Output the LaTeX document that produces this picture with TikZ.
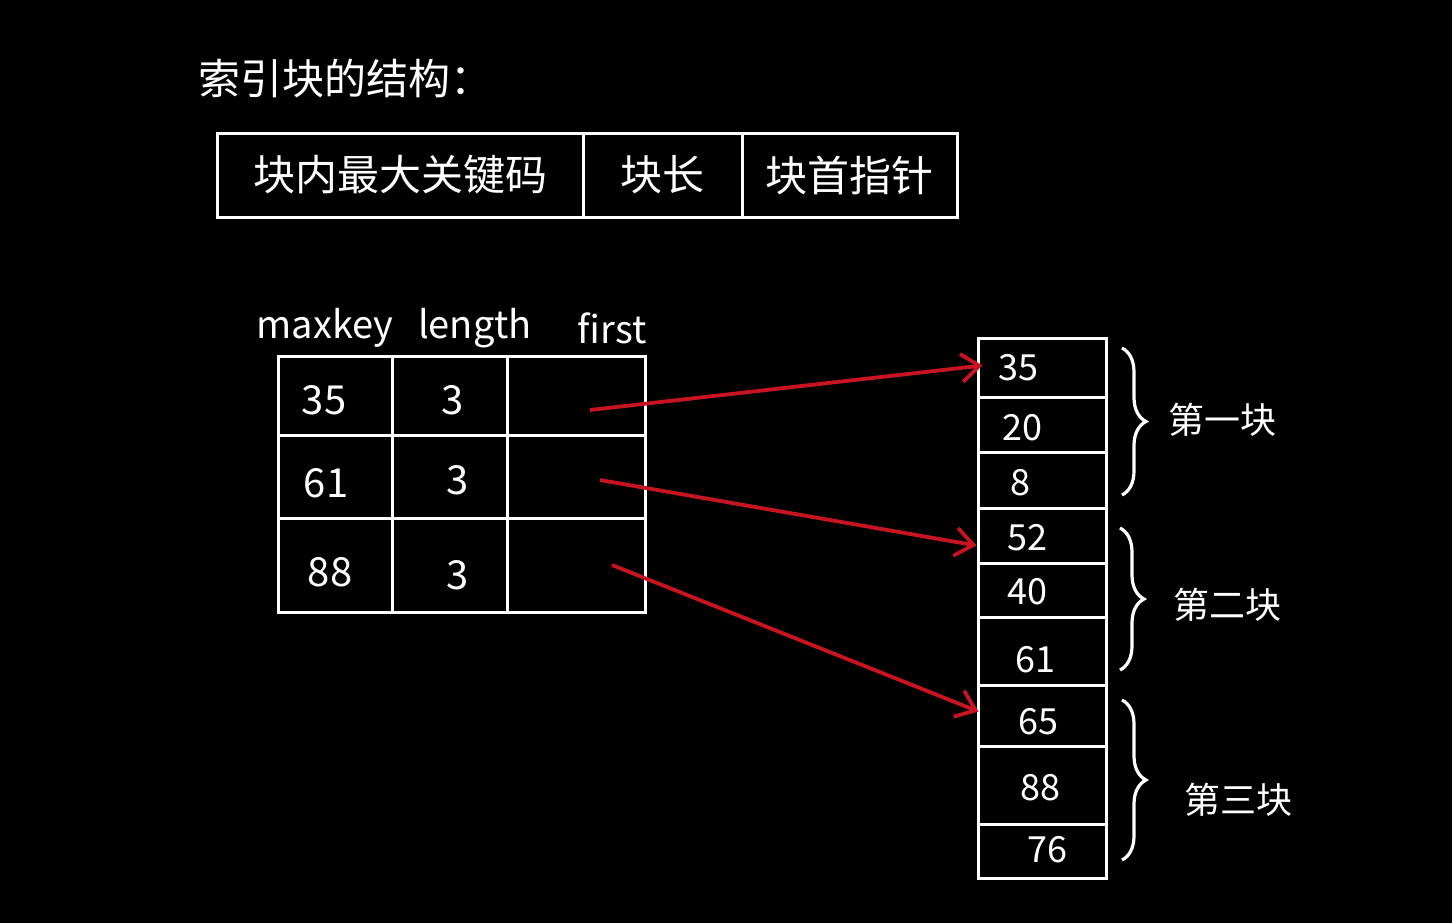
\documentclass[tikz,border=0pt]{standalone}
\usepackage{fontspec}
\setmainfont{Noto Sans CJK SC}
\usetikzlibrary{decorations.pathreplacing,arrows.meta}
\definecolor{arrowred}{RGB}{200,20,32}
\begin{document}
\begin{tikzpicture}[x=0.5pt,y=-0.5pt,
  cell/.style={draw=white,line width=1.5pt,inner sep=0pt,anchor=center,text=white},
  txt/.style={text=white,inner sep=0pt,anchor=center},
  ptr/.style={draw=arrowred,line width=1.9pt,-{Straight Barb[length=9pt,width=14pt,line width=1.9pt]}},
  bracestyle/.style={draw=white,line width=1.6pt,decorate,decoration={brace,amplitude=12pt}}]
\fill[black] (0,0) rectangle (1452,923);
\useasboundingbox (0,0) rectangle (1452,923);

% title
\node[txt,anchor=west,font=\fontsize{21}{25}\selectfont] (title) at (198,78) {索引块的结构：};

% top structure table
\node[cell,minimum width=183pt,minimum height=42pt,font=\fontsize{21}{25}\selectfont] (t1) at (400,175) {块内最大关键码};
\node[cell,minimum width=79.5pt,minimum height=42pt,font=\fontsize{21}{25}\selectfont] (t2) at (662.5,175) {块长};
\node[cell,minimum width=107.5pt,minimum height=42pt,font=\fontsize{21}{25}\selectfont] (t3) at (849.5,175) {块首指针};

% column labels
\node[txt,font=\fontsize{19}{22}\selectfont] (lk) at (325,328) {maxkey};
\node[txt,font=\fontsize{19}{22}\selectfont] (ll) at (475,328) {length};
\node[txt,font=\fontsize{19}{22}\selectfont] (lf) at (612,328) {first};

% index table cells
\node[cell,minimum width=57pt,minimum height=39.5pt] (k1) at (335,395.5) {};
\node[cell,minimum width=57.5pt,minimum height=39.5pt] (n1) at (449.5,395.5) {};
\node[cell,minimum width=69pt,minimum height=39.5pt] (f1) at (576,395.5) {};
\node[cell,minimum width=57pt,minimum height=41.5pt] (k2) at (335,476.5) {};
\node[cell,minimum width=57.5pt,minimum height=41.5pt] (n2) at (449.5,476.5) {};
\node[cell,minimum width=69pt,minimum height=41.5pt] (f2) at (576,476.5) {};
\node[cell,minimum width=57pt,minimum height=47pt] (k3) at (335,565) {};
\node[cell,minimum width=57.5pt,minimum height=47pt] (n3) at (449.5,565) {};
\node[cell,minimum width=69pt,minimum height=47pt] (f3) at (576,565) {};
\begin{scope}[font=\fontsize{20}{24}\selectfont]
\node[txt] (kv1) at (324,400) {35};
\node[txt] (nv1) at (453,400) {3};
\node[txt] (kv2) at (326,483) {61};
\node[txt] (nv2) at (458,480) {3};
\node[txt] (kv3) at (330,572) {88};
\node[txt] (nv3) at (458,575) {3};
\end{scope}

% block column
\node[cell,minimum width=64pt,minimum height=29.5pt] (r1) at (1042,367.5) {};
\node[cell,minimum width=64pt,minimum height=27.5pt] (r2) at (1042,424.5) {};
\node[cell,minimum width=64pt,minimum height=28pt] (r3) at (1042,480) {};
\node[cell,minimum width=64pt,minimum height=27.5pt] (r4) at (1042,535.5) {};
\node[cell,minimum width=64pt,minimum height=27pt] (r5) at (1042,590) {};
\node[cell,minimum width=64pt,minimum height=34pt] (r6) at (1042,651) {};
\node[cell,minimum width=64pt,minimum height=30.5pt] (r7) at (1042,715.5) {};
\node[cell,minimum width=64pt,minimum height=39pt] (r8) at (1042,785) {};
\node[cell,minimum width=64pt,minimum height=27pt] (r9) at (1042,851) {};

\begin{scope}[font=\fontsize{18}{22}\selectfont]
\node[txt] (v1) at (1018,368) {35};
\node[txt] (v2) at (1022,428) {20};
\node[txt] (v3) at (1020,483) {8};
\node[txt] (v4) at (1027,538) {52};
\node[txt] (v5) at (1027,592) {40};
\node[txt] (v6) at (1035,660) {61};
\node[txt] (v7) at (1038,722) {65};
\node[txt] (v8) at (1040,788) {88};
\node[txt] (v9) at (1047,850) {76};
\end{scope}

% braces
\coordinate (b1t) at (1122,348);
\coordinate (b1b) at (1122,495);
\coordinate (b2t) at (1120,528);
\coordinate (b2b) at (1120,670);
\coordinate (b3t) at (1122,700);
\coordinate (b3b) at (1122,860);
\draw[bracestyle] (b1t) -- (b1b);
\draw[bracestyle] (b2t) -- (b2b);
\draw[bracestyle] (b3t) -- (b3b);
\begin{scope}[font=\fontsize{18}{22}\selectfont]
\node[txt] (g1) at (1222,420) {第一块};
\node[txt] (g2) at (1227,605) {第二块};
\node[txt] (g3) at (1238,800) {第三块};
\end{scope}

% pointers
\coordinate (s1) at (590,410);
\coordinate (s2) at (600,480);
\coordinate (s3) at (612,565);
\draw[ptr] (s1) -- ([xshift=3pt,yshift=1pt]r1.west);
\draw[ptr] (s2) -- ([yshift=-5pt]r4.west);
\draw[ptr] (s3) -- ([xshift=1pt,yshift=2pt]r7.west);
\end{tikzpicture}
\end{document}
